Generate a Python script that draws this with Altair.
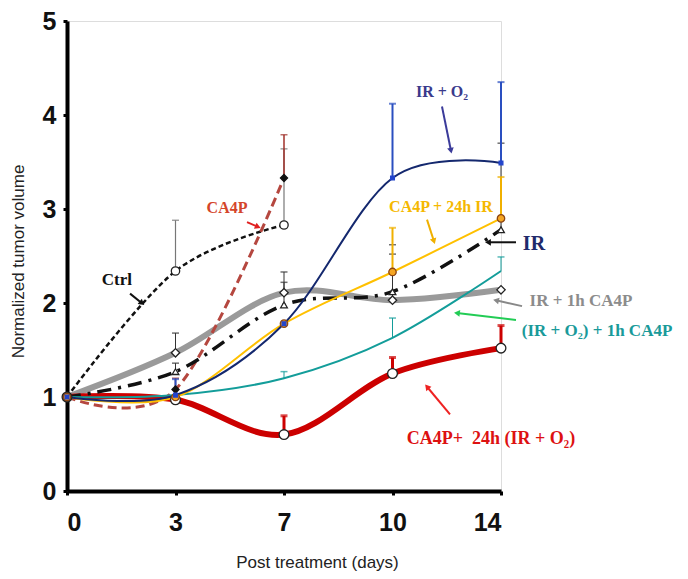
import math
import altair as alt
import pandas as pd

# ---------------- data ----------------
days = [0, 3, 7, 10, 14]
positions = [0, 1, 2, 3, 4]

ctrl = [1.0, 2.34, 2.83]
ca4p = [1.0, 1.08, 3.33]
ir_1h_ca4p = [1.0, 1.47, 2.11, 2.03, 2.14]
ir = [1.0, 1.27, 1.98, 2.12, 2.78]
ir_o2 = [1.0, 1.02, 1.78, 3.33, 3.49]
ca4p_24h_ir = [1.0, 1.0, 1.78, 2.33, 2.90]
iro2_1h_ca4p = [1.0, 1.02, 1.20, 1.63, 2.34]
ca4p_24h_iro2 = [1.0, 0.97, 0.60, 1.25, 1.52]

ctrl_err = [None, 2.88, 3.64]
ca4p_err = [None, 1.20, 3.79]
ir_1h_ca4p_err = [None, 1.68, 2.33, 2.52, None]
ir_err = [None, 1.36, 2.22, 2.62, 3.70]
ir_o2_err = [None, 1.19, None, 4.12, 4.35]
ca4p_24h_ir_err = [None, None, None, 2.80, 3.34]
iro2_1h_ca4p_err = [None, None, 1.27, 1.84, 2.49]
ca4p_24h_iro2_err = [None, None, 0.80, 1.42, 1.76]

label_text = ["Ctrl", "CA4P", "IR + O₂", "CA4P + 24h IR", "IR", "IR + 1h CA4P",
              "(IR + O₂) + 1h CA4P", "CA4P+\u00a0\u00a024h (IR + O₂)"]
label_x = [0.46, 1.475, 3.456, 3.447, 4.304, 4.737, 4.885, 3.908]
label_y = [2.24, 3.01, 4.24, 3.02, 2.63, 2.02, 1.705, 0.554]
label_color = ["#111111", "#d4452a", "#3a3a8c", "#f5b800", "#1f2a6b", "#8c8c8c",
               "#1a9a9a", "#dd1111"]
label_size = [17, 16, 16, 16, 20, 17, 17, 18]

arrow_x1 = [0.581, 1.659, 3.456, 3.318, 4.138, 4.194, 4.138, 3.530]
arrow_y1 = [2.10, 2.86, 4.09, 2.887, 2.646, 1.967, 1.820, 0.816]
arrow_x2 = [0.691, 1.76, 3.539, 3.382, 3.880, 3.954, 3.594, 3.318]
arrow_y2 = [1.998, 2.81, 3.62, 2.657, 2.646, 2.029, 1.893, 1.109]
arrow_color = ["#111111", "#e02020", "#3b3b9a", "#f0b000", "#111111", "#888888",
               "#22cc55", "#ee2222"]

# ---------------- layout ----------------
W, H = 434, 470
XMAX, YMAX = 4, 5
SX, SY = W / XMAX, H / YMAX

xscale = alt.Scale(domain=[0, XMAX], nice=False, zero=False)
yscale = alt.Scale(domain=[0, YMAX], nice=False)

series = [
    dict(v=ir_1h_ca4p, e=ir_1h_ca4p_err, color="#9a9a9a", w=6, dash=None,
         shape="diamond", fill="white", stroke="#222222", size=70, ec="#333333", ew=1),
    dict(v=ca4p_24h_iro2, e=ca4p_24h_iro2_err, color="#cc0000", w=6, dash=None,
         shape="circle", fill="white", stroke="#222222", size=95, ec="#cc0000", ew=3),
    dict(v=ctrl, e=ctrl_err, color="#111111", w=2.5, dash=[5, 3],
         shape="circle", fill="white", stroke="#222222", size=70, ec="#777777", ew=1.2),
    dict(v=ca4p, e=ca4p_err, color="#b5473f", w=3, dash=[9, 5],
         shape="diamond", fill="#111111", stroke="#111111", size=50, ec="#a0302a", ew=1.5),
    dict(v=ir, e=ir_err, color="#111111", w=3.5, dash=[14, 7, 3, 7],
         shape="triangle-up", fill="white", stroke="#222222", size=45, ec="#333333", ew=1),
    dict(v=iro2_1h_ca4p, e=iro2_1h_ca4p_err, color="#139d9a", w=2, dash=None,
         shape=None, fill=None, stroke=None, size=0, ec="#139d9a", ew=1),
    dict(v=ca4p_24h_ir, e=ca4p_24h_ir_err, color="#ffc000", w=2, dash=None,
         shape="circle", fill="#f5a623", stroke="#8b4513", size=55, ec="#f0b000", ew=2),
    dict(v=ir_o2, e=ir_o2_err, color="#14286e", w=2, dash=None,
         shape="square", fill="#2244cc", stroke="#2244cc", size=14, ec="#2a4fc0", ew=2),
]

LABEL_FONT = "Liberation Sans"
X = alt.X("pos:Q", scale=xscale,
          axis=alt.Axis(values=positions, labelExpr="[0,3,7,10,14][datum.value]",
                        title="Post treatment (days)", grid=False,
                        domainColor="black", domainWidth=4, tickColor="black",
                        tickWidth=3, tickSize=4, labelFont=LABEL_FONT,
                        labelFontWeight="bold", labelFontSize=25, labelColor="#111",
                        labelPadding=15, titleFont="Liberation Sans", titleFontSize=17,
                        titleFontWeight="normal", titleColor="#222", titleX=250,
                        titleY=71, titleAlign="center", titleBaseline="middle"))
Y = alt.Y("val:Q", scale=yscale,
          axis=alt.Axis(values=[0, 1, 2, 3, 4, 5], format="d",
                        title="Normalized tumor volume",
                        grid=False, domainColor="black", domainWidth=4,
                        tickColor="black", tickWidth=3, tickSize=4,
                        labelFont=LABEL_FONT,
                        labelFontWeight="bold", labelFontSize=25, labelColor="#111",
                        labelPadding=7, titleFont="Liberation Sans", titleFontSize=17,
                        titleFontWeight="normal", titleColor="#222", titleX=-49,
                        titleY=240, titleAlign="center", titleBaseline="middle",
                        titleAngle=-90))

line_layers, err_layers, marker_layers = [], [], []
for s in series:
    df = pd.DataFrame({"pos": positions[:len(s["v"])], "val": s["v"]})
    kw = dict(interpolate="cardinal", tension=0, color=s["color"], strokeWidth=s["w"],
              clip=False)
    if s["dash"]:
        kw["strokeDash"] = s["dash"]
    line_layers.append(alt.Chart(df).mark_line(**kw).encode(x=X, y=Y))

    edf = pd.DataFrame({"pos": positions[:len(s["e"])], "val": s["v"], "top": s["e"]}).dropna()
    if len(edf):
        err_layers.append(alt.Chart(edf).mark_rule(color=s["ec"], strokeWidth=s["ew"]).encode(
            x=X, y=Y, y2="top:Q"))
        err_layers.append(alt.Chart(edf).mark_tick(orient="horizontal", color=s["ec"],
                                                   thickness=max(1.5, s["ew"]), size=7).encode(
            x=X, y=alt.Y("top:Q", scale=yscale)))
    if s["shape"]:
        marker_layers.append(alt.Chart(df).mark_point(
            shape=s["shape"], filled=True, fill=s["fill"], stroke=s["stroke"],
            strokeWidth=1.3, size=s["size"], opacity=1).encode(x=X, y=Y))

labels_df = pd.DataFrame({"x": label_x, "y": label_y, "t": label_text,
                          "c": label_color, "fs": label_size})
labels = alt.Chart(labels_df).mark_text(font="Liberation Serif", fontWeight="bold",
                                        align="center", baseline="middle").encode(
    x=alt.X("x:Q", scale=xscale), y=alt.Y("y:Q", scale=yscale), text="t:N",
    color=alt.Color("c:N", scale=None), size=alt.Size("fs:Q", scale=None))

angles = []
for x1, y1, x2, y2 in zip(arrow_x1, arrow_y1, arrow_x2, arrow_y2):
    a = math.degrees(math.atan2((x2 - x1) * SX, (y2 - y1) * SY)) % 360
    angles.append(a)
arr_df = pd.DataFrame({"x": arrow_x1, "y": arrow_y1, "x2": arrow_x2, "y2": arrow_y2,
                       "c": arrow_color, "a": angles})
arrow_lines = alt.Chart(arr_df).mark_rule(strokeWidth=2).encode(
    x=alt.X("x:Q", scale=xscale), y=alt.Y("y:Q", scale=yscale), x2="x2:Q", y2="y2:Q",
    color=alt.Color("c:N", scale=None))
arrow_heads = alt.Chart(arr_df).mark_point(shape="triangle-up", filled=True, size=45,
                                           opacity=1).encode(
    x=alt.X("x2:Q", scale=xscale), y=alt.Y("y2:Q", scale=yscale),
    color=alt.Color("c:N", scale=None), angle=alt.Angle("a:Q", scale=None))

chart = alt.layer(*line_layers, *err_layers, *marker_layers, arrow_lines, arrow_heads,
                  labels).properties(
    width=W, height=H,
    autosize=alt.AutoSizeParams(type="none"),
    padding={"left": 59, "top": 13, "right": 178, "bottom": 88},
).configure_view(stroke=None).configure(background="white")

chart.save("out.html", embed_options={"renderer": "svg", "actions": False})
